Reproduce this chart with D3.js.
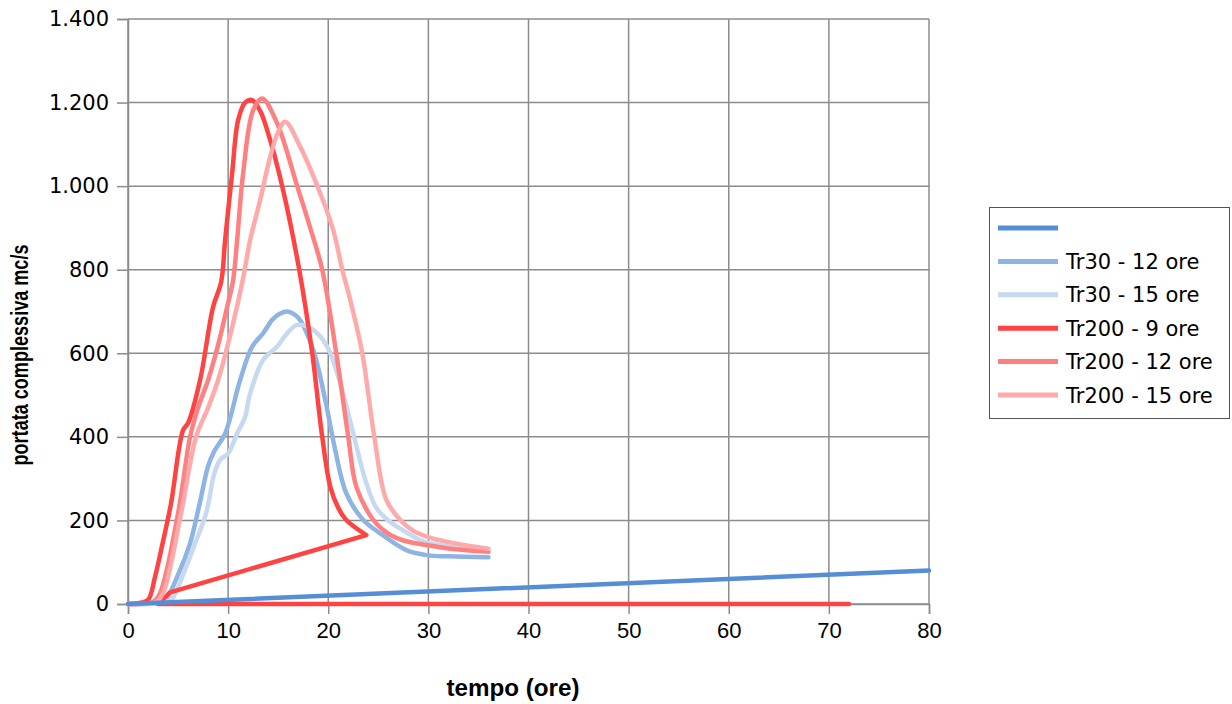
<!DOCTYPE html>
<html>
<head>
<meta charset="utf-8">
<script src="https://cdn.jsdelivr.net/npm/d3@7"></script>
<style>
  html, body { margin: 0; padding: 0; background: #ffffff; }
  svg { display: block; }
</style>
</head>
<body>
<svg id="chart" width="1232" height="704"></svg>
<script>
// ---------------- data ----------------
const xTicks = [0, 10, 20, 30, 40, 50, 60, 70, 80];
const yTicks = [0, 200, 400, 600, 800, 1000, 1200, 1400];

const seriesNames = ["", "Tr30 - 12 ore", "Tr30 - 15 ore", "Tr200 - 9 ore", "Tr200 - 12 ore", "Tr200 - 15 ore"];
const seriesColors = ["#558ed5", "#8db4e2", "#c6d9f1", "#ff4343", "#ff8080", "#ffaaaa"];

// unnamed series (straight line)
const base_t = [0, 80];
const base_q = [0, 80];

const tr30_12_t = [0, 1, 2.5, 3.7, 5, 6.2, 7.2, 8, 8.6, 9.7, 11.2, 12.4, 13.5, 14.4, 15.2, 15.9, 17, 18.5, 19.7, 20.7, 21.8, 23.5, 25.2, 27.8, 29.8, 32, 36];
const tr30_12_q = [0, 0, 2, 10, 70, 145, 245, 330, 365, 408, 536, 616, 648, 680, 695, 700, 685, 608, 488, 368, 265, 201, 169, 129, 117, 114, 112];

const tr30_15_t = [0, 1, 3, 4.3, 5.5, 6.7, 7.8, 8.6, 9.2, 10, 10.9, 11.7, 12.2, 13.5, 14.9, 15.8, 16.9, 18.5, 19.9, 21.2, 22.5, 23.7, 24.8, 26, 27.5, 29.5, 32, 36];
const tr30_15_q = [0, 0, 2, 10, 70, 145, 217, 310, 345, 360, 408, 448, 504, 584, 616, 645, 668, 656, 616, 528, 408, 297, 230, 200, 176, 150, 138, 129];

// hydrograph part, then the return segment of the same series
const tr200_9_t = [0, 1, 2, 2.7, 3.5, 4.3, 5.5, 6, 7.2, 8.5, 9.3, 9.7, 10.4, 11, 11.7, 12.4, 13.2, 13.9, 15.4, 17.1, 18.4, 19.4, 20.2, 21, 21.8, 23.8, 4.2, 3, 72];
const tr200_9_q = [0, 2, 10, 65, 150, 241, 416, 433, 536, 711, 770, 871, 1031, 1158, 1200, 1206, 1180, 1134, 1000, 800, 600, 400, 281, 230, 201, 165, 28, 0, 0];
const tr200_9_turn = 25; // index of the last hydrograph point (t = 23.8)

const tr200_12_t = [0, 1, 2.5, 3.2, 5, 6.2, 7, 8, 9, 9.9, 10.5, 10.9, 11.5, 12.5, 13.4, 14.9, 16.9, 18.2, 19.4, 20.8, 22, 22.8, 24.5, 25.5, 26.2, 27.5, 29.8, 32, 36];
const tr200_12_q = [0, 0, 5, 26, 217, 400, 470, 536, 620, 711, 775, 871, 1031, 1182, 1210, 1150, 1000, 900, 800, 600, 400, 281, 201, 177, 165, 152, 141, 133, 125];

const tr200_15_t = [0, 1, 2.8, 3.5, 5.3, 6.8, 8, 9, 10.5, 11.5, 12.2, 13.2, 14.2, 15, 15.7, 17.2, 19, 20.5, 21.4, 22.2, 23.4, 24.6, 25.8, 27.2, 28.5, 30, 32, 36];
const tr200_15_q = [0, 0, 5, 26, 217, 400, 470, 536, 672, 780, 871, 967, 1070, 1130, 1154, 1094, 995, 895, 800, 727, 600, 400, 249, 201, 175, 160, 148, 132];

// ---------------- chart ----------------
const svg = d3.select("#chart");
const x = d3.scaleLinear().domain([0, 80]).range([128, 929]);
const y = d3.scaleLinear().domain([0, 1400]).range([604, 19]);

const itLocale = d3.formatLocale({decimal: ",", thousands: ".", grouping: [3], currency: ["", "€"]});
const yFmt = itLocale.format(",d");

const gridColor = "#8c8c8c";

// gridlines
const grid = svg.append("g");
grid.selectAll("line.v").data(xTicks).join("line")
  .attr("x1", d => x(d)).attr("x2", d => x(d))
  .attr("y1", y(1400)).attr("y2", y(0))
  .attr("stroke", gridColor).attr("stroke-width", 1.5);
grid.selectAll("line.h").data(yTicks).join("line")
  .attr("x1", x(0)).attr("x2", x(80))
  .attr("y1", d => y(d)).attr("y2", d => y(d))
  .attr("stroke", gridColor).attr("stroke-width", 1.5);

// axes
const yAxis = d3.axisLeft(y).tickValues(yTicks).tickFormat(yFmt).tickSize(11).tickPadding(8);
const gy = svg.append("g").attr("transform", `translate(${x(0)},0)`).call(yAxis);
gy.select(".domain").attr("stroke", gridColor).attr("stroke-width", 1.5);
gy.selectAll(".tick line").attr("stroke", gridColor).attr("stroke-width", 1.5);
gy.selectAll(".tick text").attr("font-family", "'DejaVu Sans', Verdana, sans-serif").attr("font-size", 21).attr("fill", "#000");

const xAxis = d3.axisBottom(x).tickValues(xTicks).tickFormat(d3.format("d")).tickSize(10).tickPadding(8);
const gx = svg.append("g").attr("transform", `translate(0,${y(0)})`).call(xAxis);
gx.select(".domain").attr("stroke", gridColor).attr("stroke-width", 1.5);
gx.selectAll(".tick line").attr("stroke", gridColor).attr("stroke-width", 1.5);
gx.selectAll(".tick text").attr("font-family", "'Liberation Sans', Arial, sans-serif").attr("font-size", 22).attr("fill", "#000");

// axis titles
svg.append("text")
  .attr("x", 513).attr("y", 696)
  .attr("text-anchor", "middle")
  .attr("font-family", "'Liberation Sans', Arial, sans-serif")
  .attr("font-weight", "bold").attr("font-size", 23)
  .attr("textLength", 133).attr("lengthAdjust", "spacingAndGlyphs")
  .text("tempo (ore)");
svg.append("text")
  .attr("transform", `translate(28,355) rotate(-90)`)
  .attr("text-anchor", "middle")
  .attr("font-family", "'Liberation Sans', Arial, sans-serif")
  .attr("font-weight", "bold").attr("font-size", 23)
  .attr("textLength", 221).attr("lengthAdjust", "spacingAndGlyphs")
  .text("portata complessiva mc/s");

// series
const allSeries = [
  {t: base_t, q: base_q},
  {t: tr30_12_t, q: tr30_12_q},
  {t: tr30_15_t, q: tr30_15_q},
  {t: tr200_9_t, q: tr200_9_q},
  {t: tr200_12_t, q: tr200_12_q},
  {t: tr200_15_t, q: tr200_15_q}
].map((s, i) => ({name: seriesNames[i], color: seriesColors[i], pts: s.t.map((t, k) => [t, s.q[k]])}));

const smooth = d3.line().x(d => x(d[0])).y(d => y(d[1])).curve(d3.curveCatmullRom.alpha(0.5));
const straight = d3.line().x(d => x(d[0])).y(d => y(d[1]));

function pathFor(d, i) {
  if (i === 3) {
    // smooth hydrograph, then straight return segment
    return smooth(d.pts.slice(0, tr200_9_turn + 1)) + straight(d.pts.slice(tr200_9_turn)).replace(/^M/, "L");
  }
  return smooth(d.pts);
}

// draw order: curves first, unnamed straight line on top
const drawOrder = [1, 2, 3, 4, 5, 0];
svg.append("g").selectAll("path").data(drawOrder).join("path")
  .attr("d", i => pathFor(allSeries[i], i))
  .attr("fill", "none")
  .attr("stroke", i => allSeries[i].color)
  .attr("stroke-width", 4.5)
  .attr("stroke-linejoin", "round")
  .attr("stroke-linecap", "round");

// legend
const lg = svg.append("g");
lg.append("rect").attr("x", 989.5).attr("y", 207.5).attr("width", 240).attr("height", 211)
  .attr("fill", "#fff").attr("stroke", "#555").attr("stroke-width", 1);
const rowY = d3.scalePoint().domain(d3.range(6)).range([228, 395]);
const items = lg.selectAll("g.item").data(allSeries).join("g").attr("class", "item")
  .attr("transform", (d, i) => `translate(0,${rowY(i)})`);
items.append("line").attr("x1", 998).attr("x2", 1058).attr("y1", 0).attr("y2", 0)
  .attr("stroke", d => d.color).attr("stroke-width", 5);
items.append("text").attr("x", 1066).attr("y", 0).attr("dy", "0.36em")
  .attr("font-family", "'DejaVu Sans', Verdana, sans-serif").attr("font-size", 21)
  .attr("fill", "#000").text(d => d.name);
</script>
</body>
</html>
